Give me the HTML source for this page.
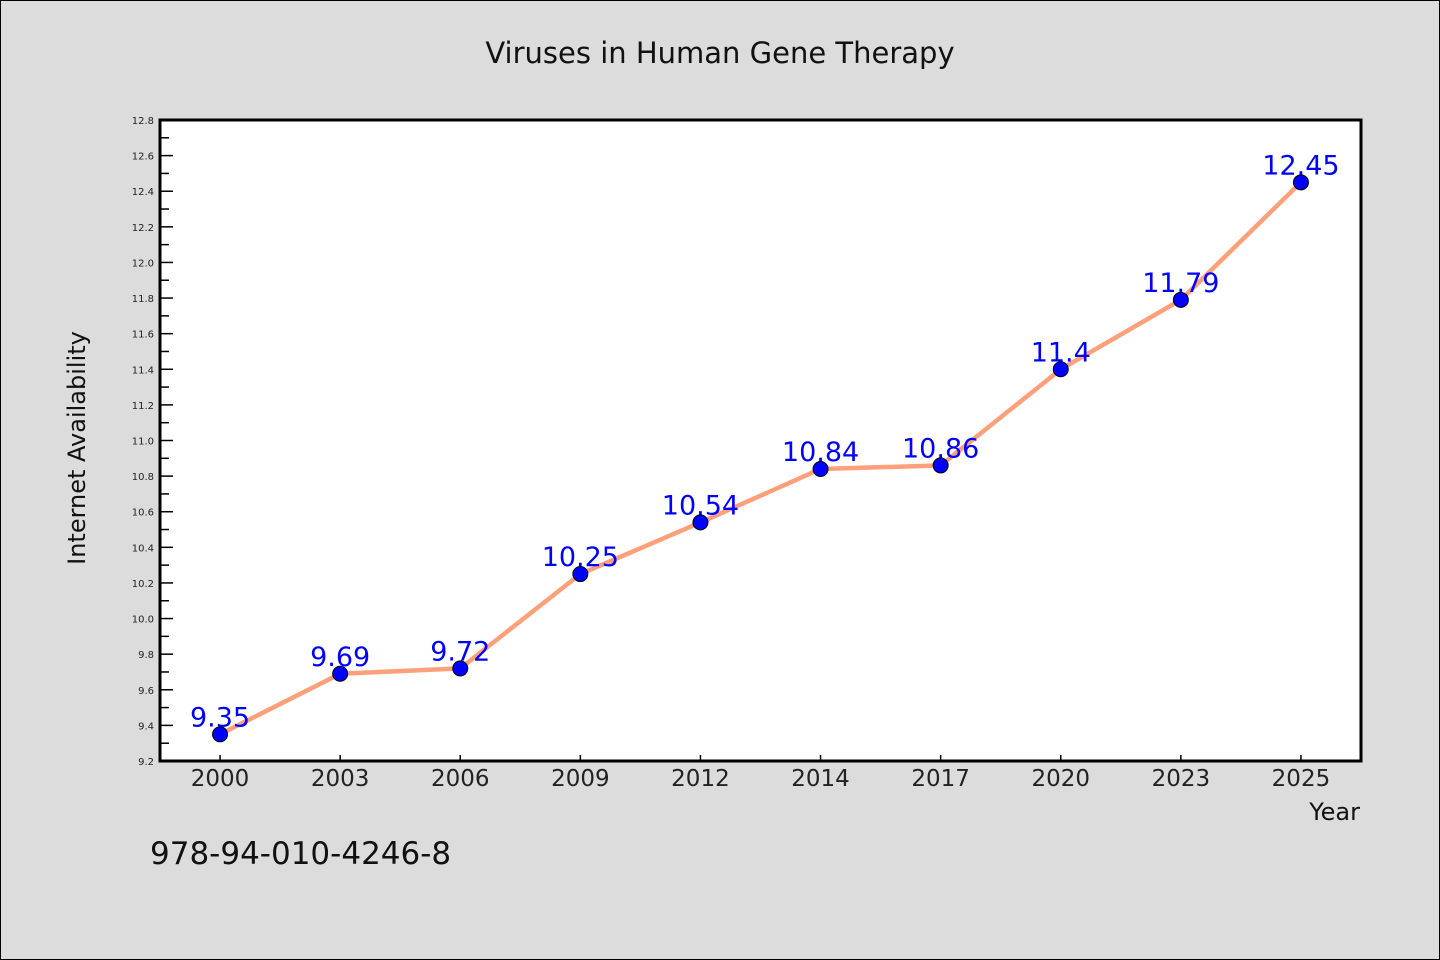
<!DOCTYPE html>
<html><head><meta charset="utf-8"><style>
html,body{margin:0;padding:0;background:#dcdcdc;}
svg{display:block;font-family:"WenQuanYi Zen Hei","DejaVu Sans",sans-serif;}
</style></head><body>
<svg id="chart" width="1440" height="960">
<rect x="0.5" y="0.5" width="1439" height="959" fill="#dcdcdc" stroke="#000"/>
<text x="720" y="63" text-anchor="middle" font-size="29" fill="#111">Viruses in Human Gene Therapy</text>
<rect x="160" y="120" width="1201" height="641" fill="#fff"/>
<g id="axes"></g>
<g id="series"></g>
<rect x="160" y="120" width="1201" height="641" fill="none" stroke="#000" stroke-width="3"/>
<text x="85" y="448" text-anchor="middle" font-size="24" fill="#111" transform="rotate(-90 85 448)">Internet Availability</text>
<text x="1360" y="820" text-anchor="end" font-size="24" fill="#111">Year</text>
<text x="150" y="864" font-size="31" fill="#111">978-94-010-4246-8</text>
</svg>
<script>
const categories = ["2000","2003","2006","2009","2012","2014","2017","2020","2023","2025"];
const values = [9.35,9.69,9.72,10.25,10.54,10.84,10.86,11.4,11.79,12.45];
const yTickLabels = ["9.2","9.4","9.6","9.8","10.0","10.2","10.4","10.6","10.8","11.0","11.2","11.4","11.6","11.8","12.0","12.2","12.4","12.6","12.8"];
const NS="http://www.w3.org/2000/svg";
const L=160,R=1361,T=120,B=761,YMIN=9.2,YMAX=12.8;
const band=(R-L)/categories.length;
const xS=i=>L+band*(i+0.5);
const yS=v=>B-(v-YMIN)/(YMAX-YMIN)*(B-T);
function mk(tag,attrs,parent){const e=document.createElementNS(NS,tag);for(const k in attrs)e.setAttribute(k,attrs[k]);parent.appendChild(e);return e;}
const ax=document.getElementById('axes'), se=document.getElementById('series');
// y ticks: minor every 0.1
for(let k=0;k<=Math.round((YMAX-YMIN)/0.1);k++){
  const v=YMIN+k*0.1, y=yS(v), major=k%2===0;
  const t=mk('line',{x1:L,x2:L+(major?13:9),y1:y,y2:y,stroke:'#000','stroke-width':1.5},ax);
  
  
}
yTickLabels.forEach(s=>{
  const t=mk('text',{x:L-6,y:yS(parseFloat(s))+4,'text-anchor':'end','font-size':10,fill:'#222'},ax);
  t.textContent=s;
  
  
});
categories.forEach((c,i)=>{
  const x=xS(i);
  const t=mk('line',{x1:x,x2:x,y1:B,y2:B-6,stroke:'#000','stroke-width':1.5},ax);
  
  
  const l=mk('text',{x:x,y:B+25,'text-anchor':'middle','font-size':23,fill:'#222'},ax);
  l.textContent=c;
  
  
});
const pl=mk('polyline',{points:values.map((v,i)=>xS(i)+','+yS(v)).join(' '),fill:'none',stroke:'#FFA07A','stroke-width':4.5,'stroke-linejoin':'round'},se);


values.forEach((v,i)=>{
  const p=mk('circle',{cx:xS(i),cy:yS(v),r:7.5,fill:'#0000ff',stroke:'#000','stroke-width':1},se);
  
  
});
values.forEach((v,i)=>{
  const t=mk('text',{x:xS(i),y:yS(v)-8,'text-anchor':'middle','font-size':27,fill:'#0000ff'},se);
  t.textContent=String(v);
  
  
});
</script>
</body></html>
